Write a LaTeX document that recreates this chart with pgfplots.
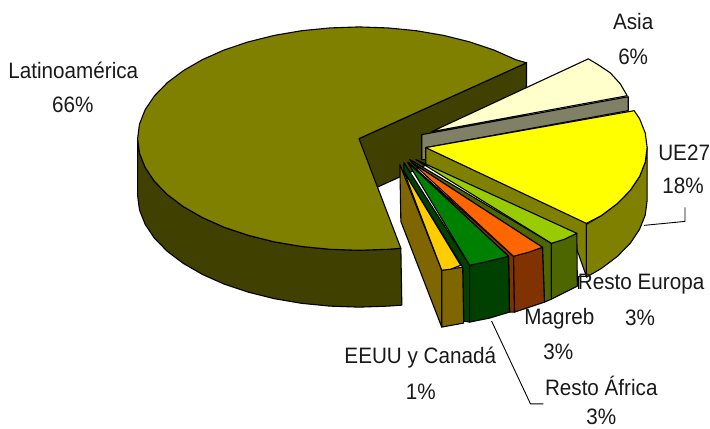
\documentclass[border=0pt]{standalone}
\usepackage{graphicx}
\usepackage{pgfplots}
\pgfplotsset{compat=1.18}
\usepackage{fontspec}
\setmainfont{Liberation Sans}
\definecolor{olivetop}{HTML}{808000}
\definecolor{olivedark}{HTML}{404000}
\definecolor{cream}{HTML}{FFFFCC}
\definecolor{creamside}{HTML}{808066}
\definecolor{puretop}{HTML}{FFFF00}
\definecolor{limetop}{HTML}{99CC00}
\definecolor{limeside}{HTML}{4D6600}
\definecolor{orangetop}{HTML}{FF6600}
\definecolor{orangeside}{HTML}{803300}
\definecolor{greentop}{HTML}{008000}
\definecolor{greenside}{HTML}{004000}
\definecolor{goldtop}{HTML}{FFCC00}
\definecolor{goldside}{HTML}{806600}
\tikzset{lab/.style={font=\fontsize{20.8}{22}\selectfont, text=black!90, inner sep=0pt, anchor=center}}
\newcommand\tx[1]{\scalebox{1}[1.08]{#1}}
\begin{document}
\begin{tikzpicture}
\begin{axis}[
  scale only axis, x=1bp, y=1bp, y dir=reverse,
  xmin=0, xmax=710, ymin=0, ymax=430,
  hide axis, clip=false,
  every axis plot/.append style={draw=black, line width=1.1bp, line join=round},
]
% invisible frame that keeps the page at the full picture size
\addplot[draw=none, fill=none] coordinates {(0,0)(710,430)};
% Latinoamerica wall
\addplot[fill=olivedark] coordinates {(360,139)(528,63)(528,120)(360,196)} --cycle;
% Latinoamerica outer side
\addplot[fill=olivedark] coordinates {(138,139)(139.9,153.6)(145.6,168)(154.9,181.9)(167.7,195)(183.9,207.2)(203,218.2)(224.8,227.9)(249,236)(275,242.5)(302.5,247.2)(331,250)(360,251)(389,250)(402,249)
 (403,306)(389,307)(360,308)(331,307)(302.5,304.2)(275,299.5)(249,293)(224.8,284.9)(203,275.2)(183.9,264.2)(167.7,252)(154.9,238.9)(145.6,225)(139.9,210.6)(138,196)} --cycle;
% Latinoamerica top
\addplot[fill=olivetop] coordinates {(360,139)(528,63)(517,59.8)(495.2,50.1)(471,42)(445,35.5)(417.5,30.8)(389,28)(360,27)(331,28)(302.5,30.8)(275,35.5)(249,42)(224.8,50.1)(203,59.8)(183.9,70.8)(167.7,83)(154.9,96.1)(145.6,110)(139.9,124.4)(138,139)(139.9,153.6)(145.6,168)(154.9,181.9)(167.7,195)(183.9,207.2)(203,218.2)(224.8,227.9)(249,236)(275,242.5)(302.5,247.2)(331,250)(360,251)(389,250)(402,249)} --cycle;
% Asia
\addplot[fill=creamside] coordinates {(423,135)(630,97)(630,111)(427,148)(427,160)(423,160)} --cycle;
\addplot[fill=cream] coordinates {(433,132)(590,59)(600,65)(612,73)(622,84)(629,96)} --cycle;
% UE27
\addplot[fill=olivetop] coordinates {(427,148)(588,223)(588,277)(575,240)(427,165)} --cycle;
\addplot[fill=olivetop] coordinates {(649,148)(647.1,162.6)(641.4,177)(632.1,190.9)(619.3,204)(603.1,216.2)(588,225)(588,278)(603.1,269.2)(619.3,257)(632.1,243.9)(641.4,230)(647.1,215.6)(649,201)} --cycle;
\addplot[fill=puretop] coordinates {(427,148)(636,111)(641.4,119)(647.1,133.4)(649,148)(647.1,162.6)(641.4,177)(632.1,190.9)(619.3,204)(603.1,216.2)(588,224)} --cycle;
% Resto Europa
\addplot[fill=limeside] coordinates {(411,160)(553,244)(553,300)(546,303)(544,248)(413,163)} --cycle;
\addplot[fill=limeside] coordinates {(553,244)(578.5,234)(579,287)(553,300)} --cycle;
\addplot[fill=limetop] coordinates {(417,160)(578.5,234)(566,240)(553,244)} --cycle;
% Magreb
\addplot[fill=orangeside] coordinates {(410,163)(515,257)(516,313)(511,313)(510,257)(409,163)} --cycle;
\addplot[fill=orangeside] coordinates {(515,257)(544,248)(546,303)(516,313)} --cycle;
\addplot[fill=orangetop] coordinates {(413,163)(544,248)(530,253)(515,257)} --cycle;
% Resto Africa
\addplot[fill=greenside] coordinates {(405,163)(471,266)(471,323)(465,322)(464,268)(405,172)} --cycle;
\addplot[fill=greenside] coordinates {(471,266)(510,257)(511,313)(491,319)(471,323)} --cycle;
\addplot[fill=greentop] coordinates {(409,163)(510,257)(490,262)(471,266)} --cycle;
% EEUU y Canada
\addplot[fill=goldside] coordinates {(401,165)(443,271)(443,328)(402,222)} --cycle;
\addplot[fill=goldside] coordinates {(443,271)(464,268)(465,324)(443,328)} --cycle;
\addplot[fill=goldtop] coordinates {(405,172)(462,266)(452,270)(443,271)} --cycle;
% leaders
\addplot[fill=none, line width=0.9bp] coordinates {(646,226)(677,223)(687,222)(687,208)};
\addplot[fill=none, line width=0.9bp] coordinates {(493,322)(532,405)(545,405)};
\addplot[fill=none, line width=1.2bp] coordinates {(588,277)(580,277)(580,290)};
% labels
\node[lab] at (axis cs:73.5,71) {\tx{Latinoamérica}};
\node[lab] at (axis cs:73,105) {\tx{66\%}};
\node[lab] at (axis cs:635,22) {\tx{Asia}};
\node[lab] at (axis cs:635,57) {\tx{6\%}};
\node[lab,anchor=west] at (axis cs:660,153) {\tx{UE27}};
\node[lab] at (axis cs:685,186) {\tx{18\%}};
\node[lab] at (axis cs:643,285) {\tx{Resto Europa}};
\node[lab] at (axis cs:642,319) {\tx{3\%}};
\node[lab] at (axis cs:561,320) {\tx{Magreb}};
\node[lab] at (axis cs:560,353) {\tx{3\%}};
\node[lab] at (axis cs:421.5,359) {\tx{EEUU y Canadá}};
\node[lab] at (axis cs:422,393) {\tx{1\%}};
\node[lab] at (axis cs:603,387) {\tx{Resto África}};
\node[lab] at (axis cs:603,418.5) {\tx{3\%}};
\end{axis}
\end{tikzpicture}
\end{document}
